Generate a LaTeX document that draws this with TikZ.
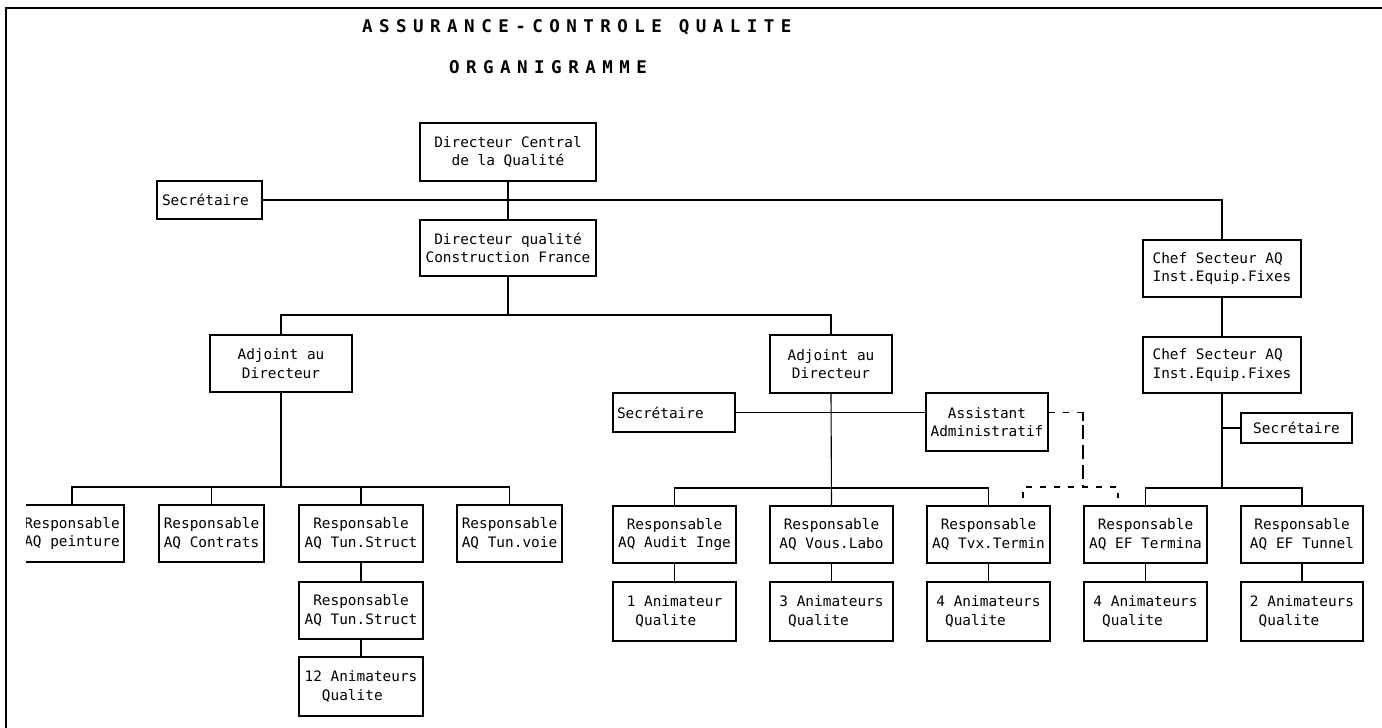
\documentclass[tikz,border=0pt]{standalone}
\usepackage{fontspec}
\usetikzlibrary{calc}
\newfontfamily\boxfont{DejaVu Sans Mono}
\newfontfamily\titlefont{DejaVu Sans Mono Bold}[LetterSpace=37]
\begin{document}
\begin{tikzpicture}[x=1pt,y=-1pt,
  bx/.style={draw, line width=1.3pt, inner sep=0pt, align=center,
    font=\boxfont\fontsize{14.4}{18.5}\selectfont},
  ln/.style={line width=1.1pt},
  dsh/.style={line width=1.1pt, dash pattern=on 6pt off 8pt},
  vdsh/.style={line width=1.1pt, dash pattern=on 14pt off 6pt},
  ttl/.style={anchor=west, inner sep=0pt, font=\titlefont\fontsize{17.5}{21}\selectfont}]
\useasboundingbox (0,0) rectangle (1382,728);
\fill[white] (0,0) rectangle (1382,728);
\draw[line width=2.6pt] (6,728) -- (6,8) -- (1382,8);

\node[ttl] (t1) at (362,27) {ASSURANCE-CONTROLE QUALITE};
\node[ttl] (t2) at (449,67) {ORGANIGRAMME};

% top
\node[bx, minimum width=176pt, minimum height=58pt] (dc) at (508,152) {Directeur Central\\de la Qualité};
\node[bx, minimum height=38pt, text width=95pt, inner xsep=5pt, align=left] (sec1) at (209.5,200) {Secrétaire};
\node[bx, minimum width=176pt, minimum height=56pt] (dq) at (508,248) {Directeur qualité\\Construction France};
\node[bx, minimum width=158pt, minimum height=57pt, align=left] (chef1) at (1222,268.5) {Chef Secteur AQ\\Inst.Equip.Fixes};
\node[bx, minimum width=158pt, minimum height=56pt, align=left] (chef2) at (1222,365) {Chef Secteur AQ\\Inst.Equip.Fixes};
\node[bx, minimum width=111pt, minimum height=30pt] (sec3) at (1296.5,428) {Secrétaire};

% adjoints
\node[bx, minimum width=142pt, minimum height=57pt] (adjl) at (281,363.5) {Adjoint au\\Directeur};
\node[bx, minimum width=122pt, minimum height=58pt] (adjr) at (831,364) {Adjoint au\\Directeur};
\node[bx, minimum height=39pt, text width=114pt, inner xsep=4pt, align=left] (sec2) at (674,412.5) {Secrétaire};
\node[bx, minimum width=122pt, minimum height=58pt] (asst) at (987,422) {Assistant\\Administratif};

% left group
\begin{scope}
\clip (26,480) rectangle (140,580);
\node[bx, minimum width=104pt, minimum height=57pt] (peint) at (72,533.5) {Responsable\\AQ peinture};
\end{scope}
\node[bx, minimum width=105pt, minimum height=57pt] (contr) at (211.5,533.5) {Responsable\\AQ Contrats};
\node[bx, minimum width=124pt, minimum height=57pt] (tuns1) at (361,533.5) {Responsable\\AQ Tun.Struct};
\node[bx, minimum width=105pt, minimum height=57pt] (tunv) at (509.5,533.5) {Responsable\\AQ Tun.voie};
\node[bx, minimum width=124pt, minimum height=57pt] (tuns2) at (361,610.5) {Responsable\\AQ Tun.Struct};
\node[bx, minimum width=124pt, minimum height=59pt, align=left] (anim12) at (361,686.5) {12 Animateurs\\\phantom{12}Qualite};

% middle and right groups
\node[bx, minimum width=123pt, minimum height=57pt] (audit) at (674.5,534.5) {Responsable\\AQ Audit Inge};
\node[bx, minimum width=123pt, minimum height=57pt] (vous) at (831.5,534.5) {Responsable\\AQ Vous.Labo};
\node[bx, minimum width=123pt, minimum height=57pt] (tvx) at (988.5,534.5) {Responsable\\AQ Tvx.Termin};
\node[bx, minimum width=123pt, minimum height=57pt] (eft) at (1145.5,534.5) {Responsable\\AQ EF Termina};
\node[bx, minimum width=122pt, minimum height=57pt] (eftun) at (1302,534.5) {Responsable\\AQ EF Tunnel};

\node[bx, minimum width=123pt, minimum height=59pt, align=left] (an1) at (674.5,611.5) {1 Animateur\\\phantom{1}Qualite};
\node[bx, minimum width=123pt, minimum height=59pt, align=left] (an2) at (831.5,611.5) {3 Animateurs\\\phantom{3}Qualite};
\node[bx, minimum width=123pt, minimum height=59pt, align=left] (an3) at (988.5,611.5) {4 Animateurs\\\phantom{4}Qualite};
\node[bx, minimum width=123pt, minimum height=59pt, align=left] (an4) at (1145.5,611.5) {4 Animateurs\\\phantom{4}Qualite};
\node[bx, minimum width=122pt, minimum height=59pt, align=left] (an5) at (1302,611.5) {2 Animateurs\\\phantom{2}Qualite};

% bus coordinates
\coordinate (busA) at (508,315);
\coordinate (busL) at (281,487);
\coordinate (busM) at (831,488);
\coordinate (busR) at (1222,488);
\coordinate (dj) at (1083,412.5);
\coordinate (djb) at (1083,421);
\coordinate (dv) at (1083,425);
\coordinate (db) at (1083,487);
\coordinate (dl) at (1023,498);
\coordinate (dr) at (1118,498);

% connectors
\draw[ln] (dc.south) -- (dq.north);
\draw[ln] (sec1.east) -- (sec1.east -| chef1.north) -- (chef1.north);
\draw[ln] (dq.south) -- (busA);
\draw[ln] (adjl.north) -- (adjl.north |- busA) -- (adjr.north |- busA) -- (adjr.north);
\draw[ln] (chef1.south) -- (chef2.north);
\draw[ln] (chef2.south) -- (busR);
\draw[ln] (sec3.west) -- (sec3.west -| chef2.south);
\draw[ln] (eft.north) -- (eft.north |- busR) -- (eftun.north |- busR) -- (eftun.north);

\draw[ln] (adjl.south) -- (busL);
\draw[ln] (peint.north) -- (peint.north |- busL) -- (tunv.north |- busL) -- (tunv.north);
\draw[ln] (contr.north) -- (contr.north |- busL);
\draw[ln] (tuns1.north) -- (tuns1.north |- busL);
\draw[ln] (tuns1.south) -- (tuns2.north);
\draw[ln] (tuns2.south) -- (anim12.north);

\draw[ln] (sec2.east) -- (sec2.east -| asst.west);
\draw[ln] (adjr.south) -- (vous.north);
\draw[ln] (audit.north) -- (audit.north |- busM) -- (tvx.north |- busM) -- (tvx.north);
\draw[ln] (audit.south) -- (an1.north);
\draw[ln] (vous.south) -- (an2.north);
\draw[ln] (tvx.south) -- (an3.north);
\draw[ln] (eft.south) -- (an4.north);
\draw[ln] (eftun.south) -- (an5.north);

% dotted liaison of the assistant
\draw[dsh] (asst.east |- sec2.east) -- ($(dj)+(-12,0)$);
\draw[ln] ($(dj)+(-6,0)$) -- (dj) -- (djb);
\draw[vdsh] (dv) -- (db);
\draw[dsh] (dl) -- (dl |- db) -- (dr |- db) -- (dr);
\end{tikzpicture}
\end{document}
